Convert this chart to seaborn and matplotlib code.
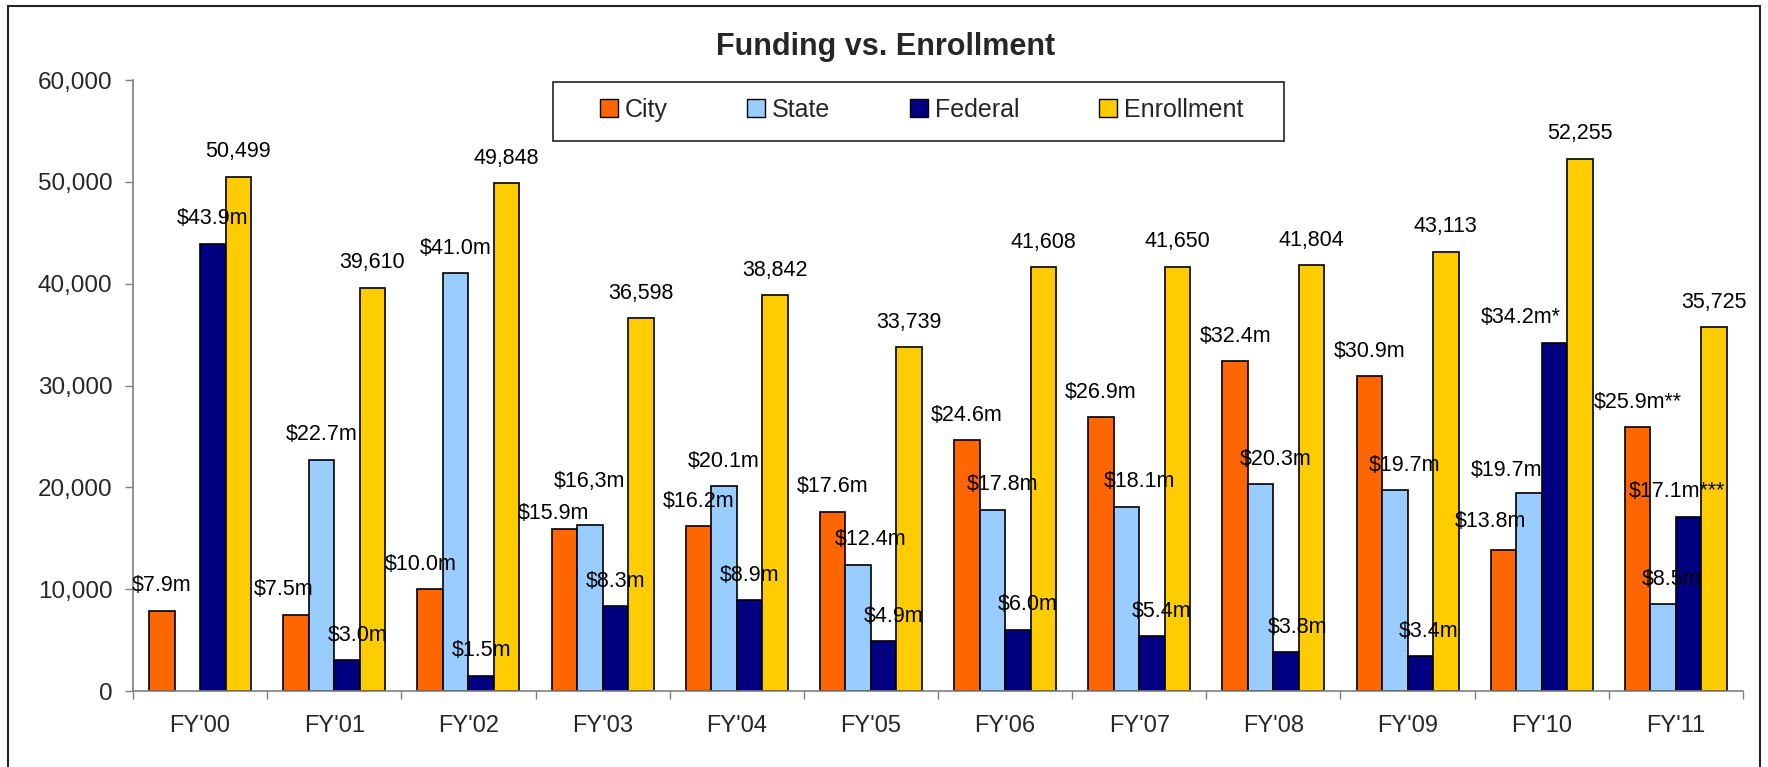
import matplotlib
matplotlib.use("Agg")
import matplotlib.pyplot as plt
import numpy as np
import pandas as pd
import seaborn as sns
from matplotlib.patches import Rectangle
from matplotlib.ticker import FuncFormatter

years = ["FY'00", "FY'01", "FY'02", "FY'03", "FY'04", "FY'05",
         "FY'06", "FY'07", "FY'08", "FY'09", "FY'10", "FY'11"]
# funding in $ millions (plotted x1000 on the shared axis)
city = [7.9, 7.5, 10.0, 15.9, 16.2, 17.6, 24.6, 26.9, 32.4, 30.9, 13.8, 25.9]
state = [np.nan, 22.7, 41.0, 16.3, 20.1, 12.4, 17.8, 18.1, 20.3, 19.7, 19.4, 8.5]
federal = [43.9, 3.0, 1.5, 8.3, 8.9, 4.9, 6.0, 5.4, 3.8, 3.4, 34.2, 17.1]
enrollment = [50499, 39610, 49848, 36598, 38842, 33739,
              41608, 41650, 41804, 43113, 52255, 35725]

city_labels = ["$7.9m", "$7.5m", "$10.0m", "$15.9m", "$16.2m", "$17.6m",
               "$24.6m", "$26.9m", "$32.4m", "$30.9m", "$13.8m", "$25.9m**"]
state_labels = [None, "$22.7m", "$41.0m", "$16,3m", "$20.1m", "$12.4m",
                "$17.8m", "$18.1m", "$20.3m", "$19.7m", "$19.7m", "$8.5m"]
federal_labels = ["$43.9m", "$3.0m", "$1.5m", "$8.3m", "$8.9m", "$4.9m",
                  "$6.0m", "$5.4m", "$3.8m", "$3.4m", "$34.2m*", "$17.1m***"]
enrollment_labels = [f"{v:,}" for v in enrollment]

series = ["City", "State", "Federal", "Enrollment"]
colors = ["#FF6600", "#99CCFF", "#000080", "#FFCC00"]

# hand-placed data labels in the original (offsets in points from default)
label_nudge = {
    ("City", "FY'01"): (-9, 0), ("City", "FY'02"): (-7, 0),
    ("City", "FY'03"): (-8, -7), ("City", "FY'10"): (-9.5, 3),
    ("State", "FY'03"): (0, 13), ("State", "FY'05"): (9, 0),
    ("State", "FY'06"): (7, 0), ("State", "FY'07"): (9, 0),
    ("State", "FY'08"): (11, 0), ("State", "FY'09"): (7, 0),
    ("State", "FY'10"): (-16.5, -1.5), ("State", "FY'11"): (6, 0),
    ("Federal", "FY'01"): (8, 0), ("Federal", "FY'05"): (7, 0),
    ("Federal", "FY'06"): (7, 0), ("Federal", "FY'07"): (7, 0),
    ("Federal", "FY'08"): (8, 0), ("Federal", "FY'09"): (6, 0),
    ("Federal", "FY'10"): (-24, 0), ("Federal", "FY'11"): (-8.5, 0),
}

rows = []
for name, vals, scale in [("City", city, 1000), ("State", state, 1000),
                          ("Federal", federal, 1000), ("Enrollment", enrollment, 1)]:
    for y, v in zip(years, vals):
        rows.append({"year": y, "series": name, "value": v * scale})
df = pd.DataFrame(rows)

sns.set_theme(style="white")
plt.rcParams["font.family"] = ["Liberation Sans", "DejaVu Sans"]

fig = plt.figure(figsize=(17.68, 7.67), dpi=100)
ax = fig.add_axes([133 / 1768, 1 - 691 / 767, 1610 / 1768, 611 / 767])

sns.barplot(data=df, x="year", y="value", hue="series", hue_order=series,
            order=years, palette=colors, width=0.76, gap=0,
            edgecolor="black", linewidth=1.2, saturation=1, ax=ax,
            errorbar=None)

all_labels = [city_labels, state_labels, federal_labels, enrollment_labels]
for name, cont, labs in zip(series, ax.containers, all_labels):
    pairs = [(yr, l) for yr, l in zip(years, labs) if l is not None]
    for bar, (yr, lab) in zip(cont, pairs):
        dx, dy = label_nudge.get((name, yr), (0, 0))
        x = bar.get_x() + bar.get_width() / 2
        ax.annotate(lab, (x, bar.get_height()), xytext=(dx, 18 + dy),
                    textcoords="offset points", ha="center", va="center",
                    fontsize=15.5, color="black")

ax.set_xlim(-0.5, len(years) - 0.5)
ax.set_ylim(0, 60000)
ax.set_yticks(range(0, 60001, 10000))
ax.yaxis.set_major_formatter(FuncFormatter(lambda v, p: f"{int(v):,}"))
ax.set_xlabel("")
ax.set_ylabel("")
ax.set_xticks(np.arange(-0.5, len(years)), minor=True)
ax.tick_params(axis="x", which="major", length=0, labelsize=17, pad=17)
ax.tick_params(axis="x", which="minor", length=5.5, width=1, color="#808080",
               direction="out", bottom=True)
ax.tick_params(axis="y", length=5.8, width=1, color="#808080", left=True,
               direction="out", labelsize=17.5, pad=9)
for s in ["top", "right"]:
    ax.spines[s].set_visible(False)
for s in ["left", "bottom"]:
    ax.spines[s].set_color("#808080")
    ax.spines[s].set_linewidth(1.2)

# legend box drawn separately (Excel-style wide padding)
ax.add_patch(Rectangle((0.2609, 0.900), 0.454, 0.0966, transform=ax.transAxes,
                       facecolor="white", edgecolor="#222222", linewidth=1.2,
                       clip_on=False, zorder=5))
leg = ax.legend(loc="center", bbox_to_anchor=(0.4898, 0.951), ncol=4,
                fontsize=18, frameon=False, handlelength=0.7,
                handleheight=0.7, handletextpad=0.28, columnspacing=3.2)
leg.set_zorder(6)
for h in leg.legend_handles:
    h.set_edgecolor("black")
    h.set_linewidth(1.0)

fig.text(0.5009, 1 - 47.5 / 767, "Funding vs. Enrollment", ha="center",
         va="center", fontsize=22, fontweight="bold")

fig.add_artist(Rectangle((8 / 1768, -0.05), 1752 / 1768, 1.05 - 6 / 767,
                         transform=fig.transFigure, fill=False,
                         edgecolor="#222222", linewidth=1.5))

fig.savefig("out.png", dpi=100)
